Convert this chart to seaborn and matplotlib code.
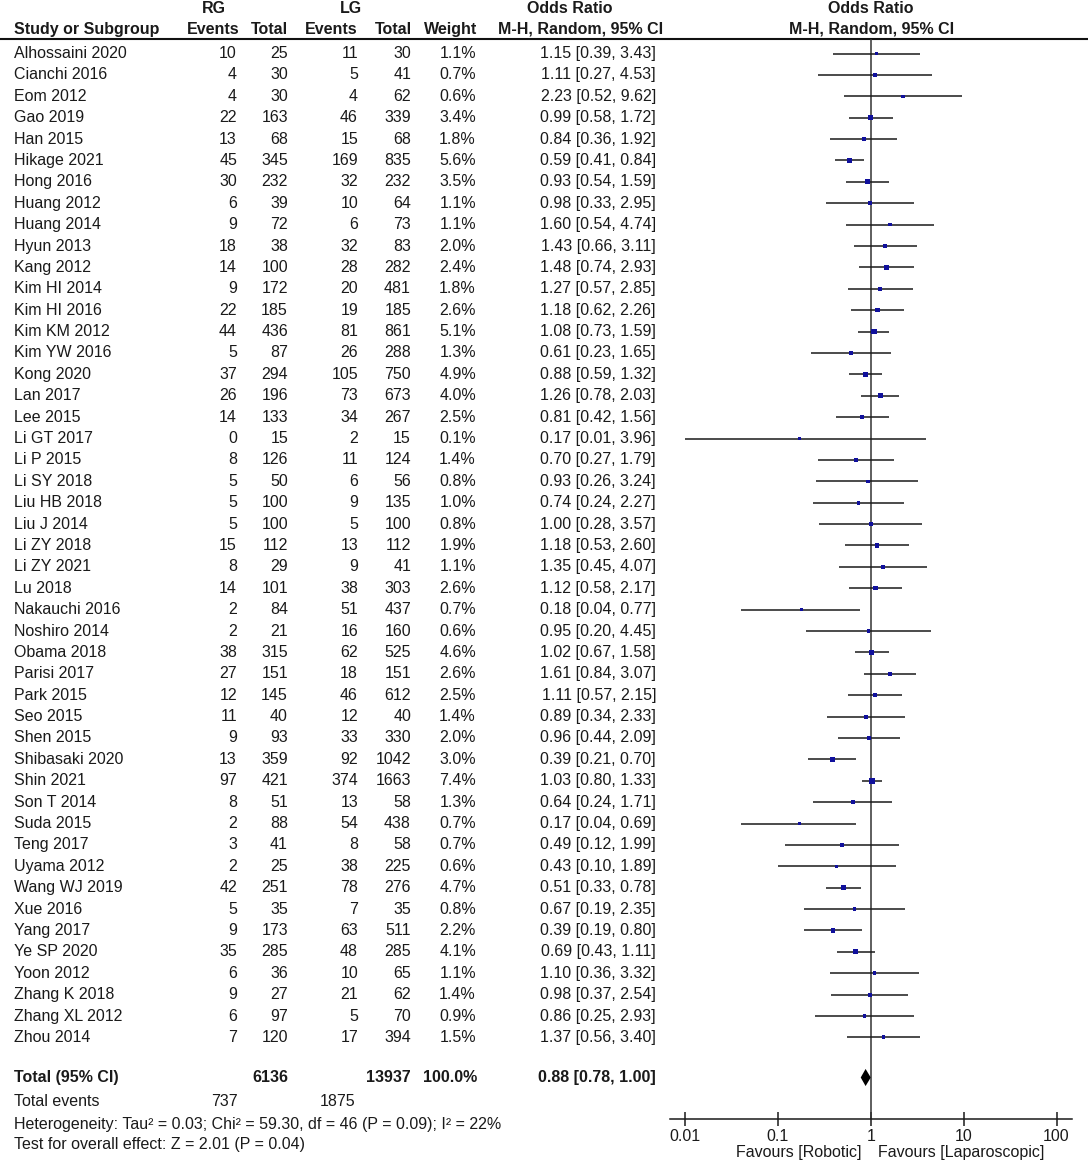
import numpy as np
import pandas as pd
import matplotlib
matplotlib.use("Agg")
import matplotlib.pyplot as plt
from matplotlib.ticker import NullLocator
import seaborn as sns

studies = [
    "Alhossaini 2020", "Cianchi 2016", "Eom 2012", "Gao 2019", "Han 2015",
    "Hikage 2021", "Hong 2016", "Huang 2012", "Huang 2014", "Hyun 2013",
    "Kang 2012", "Kim HI 2014", "Kim HI 2016", "Kim KM 2012", "Kim YW 2016",
    "Kong 2020", "Lan 2017", "Lee 2015", "Li GT 2017", "Li P 2015",
    "Li SY 2018", "Liu HB 2018", "Liu J 2014", "Li ZY 2018", "Li ZY 2021",
    "Lu 2018", "Nakauchi 2016", "Noshiro 2014", "Obama 2018", "Parisi 2017",
    "Park 2015", "Seo 2015", "Shen 2015", "Shibasaki 2020", "Shin 2021",
    "Son T 2014", "Suda 2015", "Teng 2017", "Uyama 2012", "Wang WJ 2019",
    "Xue 2016", "Yang 2017", "Ye SP 2020", "Yoon 2012", "Zhang K 2018",
    "Zhang XL 2012", "Zhou 2014",
]
rg_events = [10, 4, 4, 22, 13, 45, 30, 6, 9, 18, 14, 9, 22, 44, 5, 37, 26, 14, 0, 8,
             5, 5, 5, 15, 8, 14, 2, 2, 38, 27, 12, 11, 9, 13, 97, 8, 2, 3, 2, 42,
             5, 9, 35, 6, 9, 6, 7]
rg_total = [25, 30, 30, 163, 68, 345, 232, 39, 72, 38, 100, 172, 185, 436, 87, 294, 196, 133, 15, 126,
            50, 100, 100, 112, 29, 101, 84, 21, 315, 151, 145, 40, 93, 359, 421, 51, 88, 41, 25, 251,
            35, 173, 285, 36, 27, 97, 120]
lg_events = [11, 5, 4, 46, 15, 169, 32, 10, 6, 32, 28, 20, 19, 81, 26, 105, 73, 34, 2, 11,
             6, 9, 5, 13, 9, 38, 51, 16, 62, 18, 46, 12, 33, 92, 374, 13, 54, 8, 38, 78,
             7, 63, 48, 10, 21, 5, 17]
lg_total = [30, 41, 62, 339, 68, 835, 232, 64, 73, 83, 282, 481, 185, 861, 288, 750, 673, 267, 15, 124,
            56, 135, 100, 112, 41, 303, 437, 160, 525, 151, 612, 40, 330, 1042, 1663, 58, 438, 58, 225, 276,
            35, 511, 285, 65, 62, 70, 394]
weight = [1.1, 0.7, 0.6, 3.4, 1.8, 5.6, 3.5, 1.1, 1.1, 2.0, 2.4, 1.8, 2.6, 5.1, 1.3, 4.9, 4.0, 2.5, 0.1, 1.4,
          0.8, 1.0, 0.8, 1.9, 1.1, 2.6, 0.7, 0.6, 4.6, 2.6, 2.5, 1.4, 2.0, 3.0, 7.4, 1.3, 0.7, 0.7, 0.6, 4.7,
          0.8, 2.2, 4.1, 1.1, 1.4, 0.9, 1.5]
odds = [1.15, 1.11, 2.23, 0.99, 0.84, 0.59, 0.93, 0.98, 1.60, 1.43, 1.48, 1.27, 1.18, 1.08, 0.61, 0.88, 1.26, 0.81, 0.17, 0.70,
        0.93, 0.74, 1.00, 1.18, 1.35, 1.12, 0.18, 0.95, 1.02, 1.61, 1.11, 0.89, 0.96, 0.39, 1.03, 0.64, 0.17, 0.49, 0.43, 0.51,
        0.67, 0.39, 0.69, 1.10, 0.98, 0.86, 1.37]
ci_low = [0.39, 0.27, 0.52, 0.58, 0.36, 0.41, 0.54, 0.33, 0.54, 0.66, 0.74, 0.57, 0.62, 0.73, 0.23, 0.59, 0.78, 0.42, 0.01, 0.27,
          0.26, 0.24, 0.28, 0.53, 0.45, 0.58, 0.04, 0.20, 0.67, 0.84, 0.57, 0.34, 0.44, 0.21, 0.80, 0.24, 0.04, 0.12, 0.10, 0.33,
          0.19, 0.19, 0.43, 0.36, 0.37, 0.25, 0.56]
ci_high = [3.43, 4.53, 9.62, 1.72, 1.92, 0.84, 1.59, 2.95, 4.74, 3.11, 2.93, 2.85, 2.26, 1.59, 1.65, 1.32, 2.03, 1.56, 3.96, 1.79,
           3.24, 2.27, 3.57, 2.60, 4.07, 2.17, 0.77, 4.45, 1.58, 3.07, 2.15, 2.33, 2.09, 0.70, 1.33, 1.71, 0.69, 1.99, 1.89, 0.78,
           2.35, 0.80, 1.11, 3.32, 2.54, 2.93, 3.40]

pooled_or, pooled_lo, pooled_hi = 0.88, 0.78, 1.00
heterogeneity = "Heterogeneity: Tau² = 0.03; Chi² = 59.30, df = 46 (P = 0.09); I² = 22%"
overall_test = "Test for overall effect: Z = 2.01 (P = 0.04)"
xticks = [0.01, 0.1, 1, 10, 100]
xtick_labels = ["0.01", "0.1", "1", "10", "100"]

# layout, in pixels of the 1088 x 1162 picture
W, H = 1088, 1162
ROW0, STEP = 53.5, 21.39
TXT = "#1a1a1a"
FS = 11.5


def row_of(ypx):
    return (ypx - ROW0) / STEP


sns.set_style("white")
plt.rcParams["font.family"] = ["Liberation Sans", "DejaVu Sans"]

fig = plt.figure(figsize=(W / 100, H / 100), dpi=100)

# text table in pixel-x / row-y coordinates
tab = fig.add_axes([0, 0, 1, 1])
tab.set_xlim(0, W)
tab.set_ylim(row_of(H), row_of(0))
tab.axis("off")

kw = dict(fontsize=FS, color=TXT, va="center")
bold = dict(kw, fontweight="bold")

# headers
h1, h2 = row_of(8.5), row_of(29.5)
tab.text(214, h1, "RG", ha="center", **bold)
tab.text(351, h1, "LG", ha="center", **bold)
tab.text(570, h1, "Odds Ratio", ha="center", **bold)
tab.text(871, h1, "Odds Ratio", ha="center", **bold)
tab.text(14, h2, "Study or Subgroup", ha="left", **bold)
tab.text(239, h2, "Events", ha="right", **bold)
tab.text(288, h2, "Total", ha="right", **bold)
tab.text(357, h2, "Events", ha="right", **bold)
tab.text(412, h2, "Total", ha="right", **bold)
tab.text(477, h2, "Weight", ha="right", **bold)
tab.text(663, h2, "M-H, Random, 95% CI", ha="right", **bold)
tab.text(872, h2, "M-H, Random, 95% CI", ha="center", **bold)
tab.plot([0, W], [row_of(39)] * 2, color="#111111", lw=1.5)

# study rows
for i, name in enumerate(studies):
    tab.text(14, i, name, ha="left", **kw)
    tab.text(237, i, str(rg_events[i]), ha="right", **kw)
    tab.text(288, i, str(rg_total[i]), ha="right", **kw)
    tab.text(358, i, str(lg_events[i]), ha="right", **kw)
    tab.text(411, i, str(lg_total[i]), ha="right", **kw)
    tab.text(476, i, f"{weight[i]:.1f}%", ha="right", **kw)
    tab.text(656, i, f"{odds[i]:.2f} [{ci_low[i]:.2f}, {ci_high[i]:.2f}]", ha="right", **kw)

# totals
tr = row_of(1077.5)
tab.text(14, tr, "Total (95% CI)", ha="left", **bold)
tab.text(288, tr, str(int(np.sum(rg_total))), ha="right", **bold)
tab.text(411, tr, str(int(np.sum(lg_total))), ha="right", **bold)
tab.text(477, tr, f"{np.sum(weight):.1f}%", ha="right", **bold)
tab.text(656, tr, f"{pooled_or:.2f} [{pooled_lo:.2f}, {pooled_hi:.2f}]", ha="right", **bold)
te = row_of(1102)
tab.text(14, te, "Total events", ha="left", **kw)
tab.text(238, te, str(int(np.sum(rg_events))), ha="right", **kw)
tab.text(355, te, str(int(np.sum(lg_events))), ha="right", **kw)
tab.text(14, row_of(1124), heterogeneity, ha="left", **kw)
tab.text(14, row_of(1145), overall_test, ha="left", **kw)
tab.text(862, row_of(1152), "Favours [Robotic]", ha="right", **kw)
tab.text(878, row_of(1152), "Favours [Laparoscopic]", ha="left", **kw)

# forest plot
x0, x1, ytop, ybot = 670, 1072, 39, 1119
x_one, decade = 870.75, 92.9
fx = fig.add_axes([x0 / W, 1 - ybot / H, (x1 - x0) / W, (ybot - ytop) / H])
fx.patch.set_alpha(0)
fx.set_xscale("log")
fx.set_xlim(10 ** ((x0 - x_one) / decade), 10 ** ((x1 - x_one) / decade))
fx.set_ylim(row_of(ybot), row_of(ytop))

df = pd.DataFrame({"study": studies, "odds": odds, "lo": ci_low, "hi": ci_high,
                   "weight": weight, "row": np.arange(len(studies))})
fx.hlines(df["row"], df["lo"], df["hi"], color="#1a1a1a", lw=1.1, zorder=2)
sns.scatterplot(data=df, x="odds", y="row", size="weight", sizes=(5, 20), marker="s",
                color="#10109c", linewidth=0, legend=False, ax=fx, zorder=3)
fx.axvline(1, color="#333333", lw=1.1, zorder=1)
fx.fill([pooled_lo, pooled_or, pooled_hi, pooled_or], [tr, tr - 0.4, tr, tr + 0.4],
        color="black", lw=0, zorder=3)

for s in ["top", "right", "left"]:
    fx.spines[s].set_visible(False)
fx.spines["bottom"].set_color("#1a1a1a")
fx.spines["bottom"].set_linewidth(1.1)
fx.set_xticks(xticks)
fx.set_xticklabels(xtick_labels)
fx.xaxis.set_minor_locator(NullLocator())
fx.set_yticks([])
fx.set_xlabel("")
fx.set_ylabel("")
fx.tick_params(axis="x", which="major", bottom=True, direction="inout", length=10,
               width=1.1, color="#1a1a1a", labelsize=FS, labelcolor=TXT, pad=2)

fig.savefig("out.png", dpi=100, facecolor="white")
